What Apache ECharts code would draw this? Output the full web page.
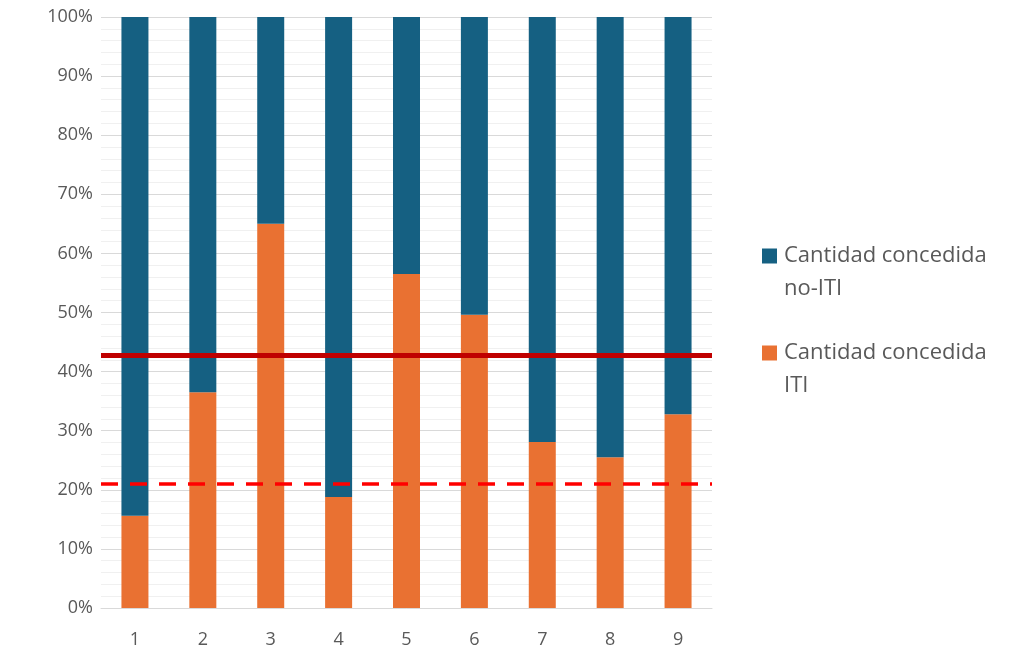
<!DOCTYPE html>
<html><head><meta charset="utf-8">
<script src="https://cdn.jsdelivr.net/npm/echarts@6/dist/echarts.min.js"></script>
<style>html,body{margin:0;padding:0;background:#fff}#c{width:1019px;height:650px}</style>
</head><body><div id="c"></div>
<script>
const categories = ['1','2','3','4','5','6','7','8','9'];
const itiValues = [15.6, 36.5, 65.0, 18.8, 56.5, 49.6, 28.1, 25.5, 32.8];
const noItiValues = [84.4, 63.5, 35.0, 81.2, 43.5, 50.4, 71.9, 74.5, 67.2];
const solidLineValue = 42.8;
const dashedLineValue = 21.0;
const seriesNames = ['Cantidad concedida no-ITI', 'Cantidad concedida ITI'];
const legendLines = {
  'Cantidad concedida no-ITI': ['Cantidad concedida', 'no-ITI'],
  'Cantidad concedida ITI': ['Cantidad concedida', 'ITI']
};

const FONT = 'Open Sans';
const LH = 33;
const chart = echarts.init(document.getElementById('c'));
function mkLegend(name, center) {
  return {
    data: [name], left: 762, top: center - 1.5 * LH, padding: 0, orient: 'vertical',
    icon: 'rect', itemWidth: 15, itemHeight: 15, itemGap: 0,
    formatter: n => ' \n' + legendLines[n].join('\n'),
    textStyle: { fontFamily: FONT, fontSize: 22, color: '#595959', lineHeight: LH, padding: [0, 0, 0, 2] }
  };
}
chart.setOption({
  animation: false,
  textStyle: { fontFamily: FONT },
  grid: { left: 101, right: 307, top: 17, bottom: 42 },
  legend: [mkLegend(seriesNames[0], 256), mkLegend(seriesNames[1], 353)],
  xAxis: {
    type: 'category', data: categories,
    axisLine: { lineStyle: { color: '#d9d9d9', width: 1 } },
    axisTick: { show: false },
    axisLabel: { color: '#595959', fontSize: 18, margin: 23, fontFamily: FONT }
  },
  yAxis: {
    type: 'value', min: 0, max: 100, interval: 10,
    axisLabel: { formatter: '{value}%', color: '#595959', fontSize: 18, margin: 8, fontFamily: FONT },
    axisLine: { show: false }, axisTick: { show: false },
    splitLine: { lineStyle: { color: '#d9d9d9', width: 1 } },
    minorTick: { show: false, splitNumber: 5 },
    minorSplitLine: { show: true, lineStyle: { color: '#f0f0f0', width: 1 } }
  },
  series: [
    {
      name: seriesNames[1], type: 'bar', stack: 'a', data: itiValues,
      barWidth: 27, itemStyle: { color: '#E97132' },
      markLine: {
        silent: true, symbol: 'none', label: { show: false }, z: 10,
        data: [
          { yAxis: solidLineValue, lineStyle: { color: '#C00000', width: 5, type: 'solid' } },
          { yAxis: dashedLineValue, lineStyle: { color: '#FF0000', width: 3.5, type: [17, 12] } }
        ]
      }
    },
    {
      name: seriesNames[0], type: 'bar', stack: 'a', data: noItiValues,
      barWidth: 27, itemStyle: { color: '#156082' }
    }
  ]
});
</script></body></html>
